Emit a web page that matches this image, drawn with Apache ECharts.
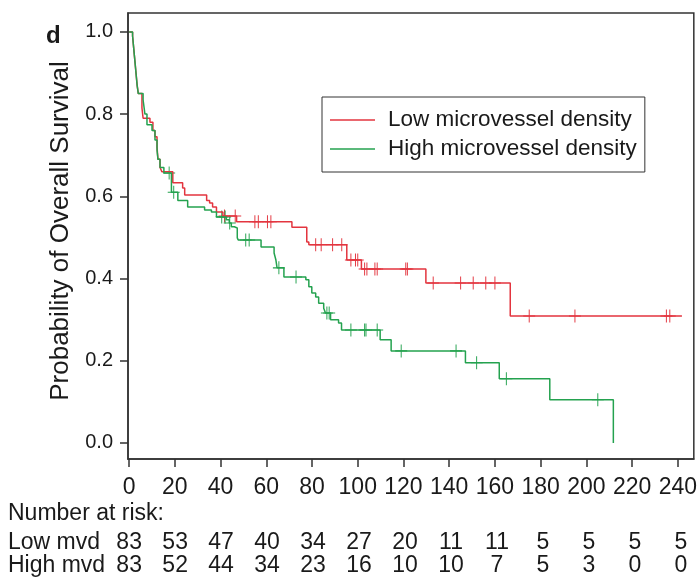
<!DOCTYPE html>
<html>
<head>
<meta charset="utf-8">
<script src="https://cdn.jsdelivr.net/npm/echarts@6/dist/echarts.min.js"></script>
<style>
    html, body { margin: 0; padding: 0; background: #fff; }
    #chart { width: 700px; height: 577px; }
</style>
</head>
<body>
<div id="chart"></div>
<script>
// Kaplan-Meier steps (time in months, survival after the drop)
var lowTimes = [0, 1.5, 2, 2.5, 3, 3.5, 4, 5.6, 6.1, 9.1, 10.4, 11.3, 12.2, 12.6, 13.5, 14.3, 19.1, 23.4, 24.3, 33.9, 35.2, 36.5, 38.2, 41, 47, 71.2, 77.7, 78.6, 95.2, 101.6, 129.8, 166.7, 241.8];
var lowSurv = [1.0, 0.99, 0.96, 0.93, 0.90, 0.87, 0.85, 0.815, 0.79, 0.78, 0.76, 0.745, 0.72, 0.69, 0.67, 0.66, 0.633, 0.62, 0.603, 0.59, 0.584, 0.574, 0.562, 0.552, 0.538, 0.525, 0.489, 0.482, 0.445, 0.423, 0.389, 0.309, 0.309];
var lowCensor = [41.7, 46.4, 55, 56.5, 60.5, 62, 81.6, 84, 89, 93, 97, 99, 100, 103, 104, 107.5, 108.5, 121, 121.7, 133, 145, 150.5, 156, 160, 175, 195, 235, 236.5];

var highTimes = [0, 1.5, 2, 2.5, 3, 3.5, 4, 6.1, 6.9, 7.8, 10, 11.3, 12.2, 12.6, 13.5, 15.2, 18.5, 21.3, 25.6, 33, 36, 38.2, 42.5, 43.8, 44.7, 46, 47.3, 47.7, 57.7, 63.4, 64.2, 64.7, 67.7, 77.3, 78.6, 79.9, 81.6, 82.9, 85.1, 85.9, 88.1, 91.6, 92.9, 109.8, 114.6, 147.1, 161.9, 184, 211.8];
var highSurv = [1.0, 0.99, 0.96, 0.93, 0.90, 0.87, 0.85, 0.835, 0.80, 0.774, 0.76, 0.737, 0.713, 0.69, 0.67, 0.657, 0.61, 0.59, 0.574, 0.567, 0.562, 0.55, 0.543, 0.535, 0.526, 0.523, 0.499, 0.494, 0.477, 0.462, 0.445, 0.426, 0.404, 0.397, 0.38, 0.365, 0.355, 0.34, 0.328, 0.316, 0.30, 0.292, 0.275, 0.251, 0.224, 0.195, 0.156, 0.105, 0.0];
var highCensor = [17.5, 19.5, 40.5, 42, 44, 51, 52.5, 65.5, 73, 86.5, 87.5, 97, 103, 103.6, 108.5, 119, 143, 152, 165, 205];

// number at risk
var riskTimes = [0, 20, 40, 60, 80, 100, 120, 140, 160, 180, 200, 220, 240];
var lowRisk = [83, 53, 47, 40, 34, 27, 20, 11, 11, 5, 5, 5, 5];
var highRisk = [83, 52, 44, 34, 23, 16, 10, 10, 7, 5, 3, 0, 0];

var xTicks = [0, 20, 40, 60, 80, 100, 120, 140, 160, 180, 200, 220, 240];
var yTicks = [0, 0.2, 0.4, 0.6, 0.8, 1.0];

var lowName = 'Low microvessel density';
var highName = 'High microvessel density';
var red = '#e3353f';
var green = '#24a24f';
var font = '"Liberation Sans", Arial, Helvetica, sans-serif';
var ink = '#1a1a1a';

function pairs(times, surv) {
    return times.map(function (t, i) { return [t, surv[i]]; });
}

// value of the step curve at time t
function survAt(times, surv, t) {
    var s = surv[0];
    for (var i = 0; i < times.length; i++) {
        if (times[i] <= t) s = surv[i];
    }
    return s;
}

function censorPoints(censor, times, surv) {
    return censor.map(function (t) { return [t, survAt(times, surv, t)]; });
}

function riskPoints(row, risk) {
    return riskTimes.map(function (t, i) { return [t, row, risk[i]]; });
}

var plusSymbol = 'path://M46,0h8v100h-8zM0,46h100v8h-100z';

var myChart = echarts.init(document.getElementById('chart'));

var option = {
    animation: false,
    title: {
        text: 'd',
        left: 41,
        top: 19,
        textStyle: { fontFamily: font, fontSize: 24, fontWeight: 'bold', color: ink }
    },
    graphic: [
        {
            type: 'text',
            left: 8,
            top: 502,
            style: { text: 'Number at risk:', font: '23px ' + font, fill: ink }
        },
        {
            // y axis title
            type: 'text',
            x: 61,
            y: 231,
            rotation: Math.PI / 2,
            style: {
                text: 'Probability of Overall Survival',
                font: '26px ' + font,
                fill: ink,
                align: 'center',
                verticalAlign: 'middle'
            }
        }
    ],
    legend: {
        data: [lowName, highName],
        orient: 'vertical',
        left: 322,
        top: 97,
        padding: [11, 8, 11, 8],
        borderColor: '#333',
        borderWidth: 1,
        icon: 'rect',
        itemWidth: 45,
        itemHeight: 1.5,
        itemGap: 5,
        textStyle: { fontFamily: font, fontSize: 22.5, lineHeight: 24, color: ink, padding: [0, 0, 0, 8] }
    },
    grid: [
        {
            left: 128,
            right: 3,
            top: 13,
            bottom: 118,
            show: true,
            borderColor: '#333',
            borderWidth: 1.5
        },
        {
            // risk table rows sit on the top and bottom edge of this grid
            left: 128,
            right: 3,
            top: 543,
            height: 27
        }
    ],
    xAxis: [
        {
            type: 'value',
            min: -0.5,
            max: 247,
            splitLine: { show: false },
            axisLine: { onZero: false, lineStyle: { color: '#333', width: 1.5 } },
            axisTick: { length: 8, customValues: xTicks, lineStyle: { color: '#333', width: 1.5 } },
            axisLabel: { customValues: xTicks, margin: 17, fontFamily: font, fontSize: 23, color: ink }
        },
        {
            type: 'value',
            gridIndex: 1,
            min: -0.5,
            max: 247,
            show: false
        }
    ],
    yAxis: [
        {
            type: 'value',
            min: -0.039,
            max: 1.046,
            splitLine: { show: false },
            axisLine: { show: true, onZero: false, lineStyle: { color: '#333', width: 1.5 } },
            axisTick: { show: true, length: 8, customValues: yTicks, lineStyle: { color: '#333', width: 1.5 } },
            axisLabel: {
                customValues: yTicks,
                margin: 15,
                fontFamily: font,
                fontSize: 20,
                color: ink,
                formatter: function (v) { return v.toFixed(1); }
            }
        },
        {
            type: 'category',
            gridIndex: 1,
            inverse: true,
            boundaryGap: false,
            data: ['Low mvd', 'High mvd'],
            axisLine: { show: false },
            axisTick: { show: false },
            axisLabel: { interval: 0, align: 'left', margin: 120, fontFamily: font, fontSize: 23, color: ink }
        }
    ],
    series: [
        {
            name: lowName,
            type: 'line',
            step: 'end',
            symbol: 'none',
            data: pairs(lowTimes, lowSurv),
            lineStyle: { color: red, width: 1.5 },
            itemStyle: { color: red }
        },
        {
            name: highName,
            type: 'line',
            step: 'end',
            symbol: 'none',
            data: pairs(highTimes, highSurv),
            lineStyle: { color: green, width: 1.5 },
            itemStyle: { color: green }
        },
        {
            name: 'low censored',
            type: 'scatter',
            symbol: plusSymbol,
            symbolSize: [12, 13],
            data: censorPoints(lowCensor, lowTimes, lowSurv),
            itemStyle: { color: red, opacity: 1 }
        },
        {
            name: 'high censored',
            type: 'scatter',
            symbol: plusSymbol,
            symbolSize: [12, 13],
            data: censorPoints(highCensor, highTimes, highSurv),
            itemStyle: { color: green, opacity: 1 }
        },
        {
            name: 'risk',
            type: 'scatter',
            xAxisIndex: 1,
            yAxisIndex: 1,
            symbolSize: 0,
            data: riskPoints(0, lowRisk).concat(riskPoints(1, highRisk)),
            itemStyle: { opacity: 1 },
            label: {
                show: true,
                position: 'inside',
                fontFamily: font,
                fontSize: 23,
                color: ink,
                formatter: function (p) { return p.value[2]; }
            }
        }
    ]
};

myChart.setOption(option);
</script>
</body>
</html>
